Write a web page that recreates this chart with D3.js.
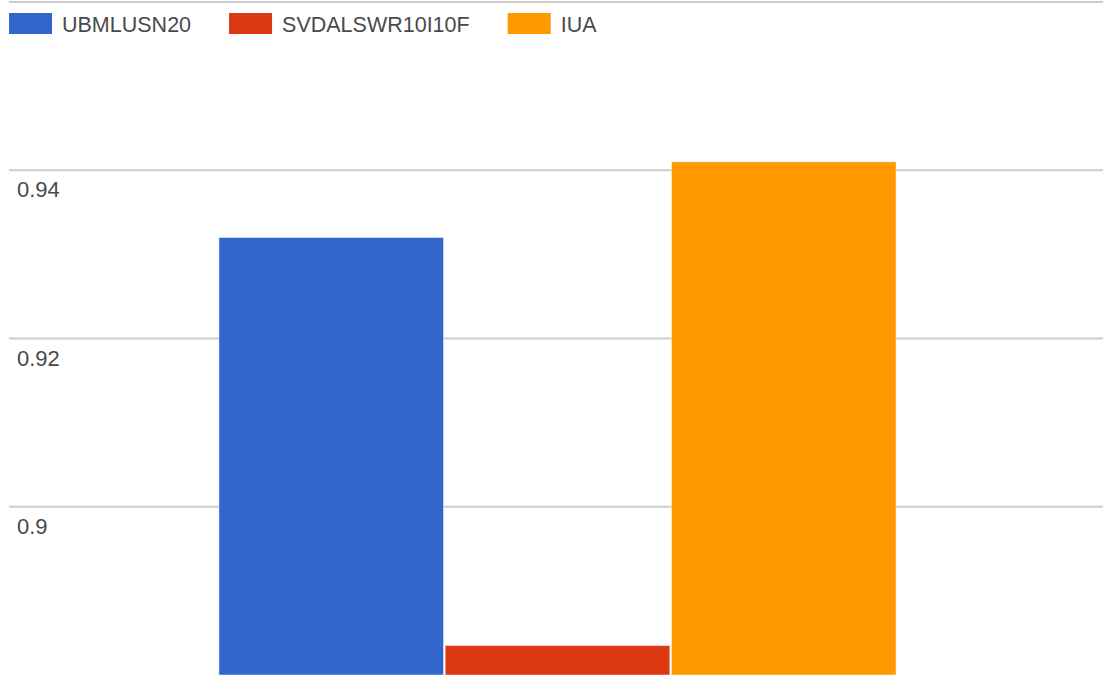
<!DOCTYPE html>
<html>
<head>
<meta charset="utf-8">
<script src="https://cdn.jsdelivr.net/npm/d3@7"></script>
<style>
  body { margin: 0; background: #fff; }
  svg text { font-family: Arial, "Liberation Sans", sans-serif; }
</style>
</head>
<body>
<div id="chart"></div>
<script>
// data
const categories = [""];
const seriesNames = ["UBMLUSN20", "SVDALSWR10I10F", "IUA"];
const seriesValues = [0.932, 0.8835, 0.941];
const seriesColors = ["#3366cc", "#dc3912", "#ff9900"];
const yTicks = [0.9, 0.92, 0.94, 0.96];
const yTickLabels = ["0.9", "0.92", "0.94", ""];

// dimensions
const width = 1103, height = 675;
const plot = {left: 9, right: 1106, top: 2, bottom: 675};

const svg = d3.select("#chart")
  .append("svg")
    .attr("width", width)
    .attr("height", height);

// scales
const y = d3.scaleLinear()
  .domain([0.88, 0.96])
  .range([plot.bottom, plot.top]);

const x0 = d3.scaleBand()
  .domain(categories)
  .range([plot.left, plot.right])
  .paddingInner(0)
  .paddingOuter(0.31);

const x1 = d3.scaleBand()
  .domain(seriesNames)
  .range([0, x0.bandwidth()])
  .paddingInner(0.0075)
  .paddingOuter(0);

// gridlines
svg.append("g")
  .selectAll("line")
  .data(yTicks)
  .join("line")
    .attr("x1", plot.left)
    .attr("x2", width)
    .attr("y1", d => y(d))
    .attr("y2", d => y(d))
    .attr("stroke", "#cccccc")
    .attr("stroke-width", 2);

// tick labels, inside the plot below each gridline
svg.append("g")
  .selectAll("text")
  .data(yTicks)
  .join("text")
    .attr("x", plot.left + 8)
    .attr("y", d => y(d) + 27)
    .attr("font-size", 22)
    .attr("fill", "#4a4a4a")
    .text((d, i) => yTickLabels[i]);

// bars
const rows = seriesNames.map((name, i) => ({cat: categories[0], name: name, value: seriesValues[i], color: seriesColors[i]}));

svg.append("g")
  .selectAll("rect")
  .data(rows)
  .join("rect")
    .attr("x", d => x0(d.cat) + x1(d.name))
    .attr("width", x1.bandwidth())
    .attr("y", d => y(d.value))
    .attr("height", d => y(0.88) - y(d.value))
    .attr("fill", d => d.color)
    .attr("stroke", "#ffffff")
    .attr("stroke-opacity", 0.45)
    .attr("stroke-width", 1);

// legend
const legend = svg.append("g").attr("transform", "translate(9,13)");
let lx = 0;
seriesNames.forEach(function(name, i) {
  const g = legend.append("g").attr("transform", `translate(${lx},0)`);
  g.append("rect")
    .attr("width", 43)
    .attr("height", 21)
    .attr("fill", seriesColors[i]);
  const t = g.append("text")
    .attr("x", 53)
    .attr("y", 19)
    .attr("font-size", 21.5)
    .attr("fill", "#4a4a4a")
    .text(name);
  lx += 53 + t.node().getComputedTextLength() + 38;
});
</script>
</body>
</html>
